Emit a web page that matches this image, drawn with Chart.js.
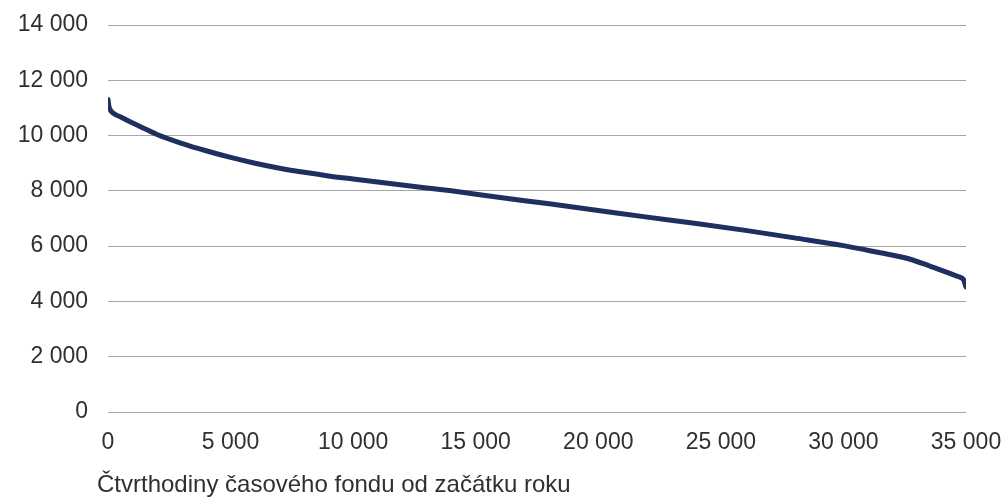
<!DOCTYPE html>
<html>
<head>
<meta charset="utf-8">
<script src="https://cdn.jsdelivr.net/npm/chart.js@4/dist/chart.umd.min.js"></script>
<style>
  html, body { margin: 0; padding: 0; background: #fff; }
  #wrap { width: 1007px; height: 497px; }
</style>
</head>
<body>
<div id="wrap"><canvas id="loadChart"></canvas></div>
<script>
// Data
const quarterHours = [0, 30, 80, 200, 500, 900, 1300, 2000, 3000, 4000, 5000, 6000, 7000, 8000, 9000, 10000, 12000, 14000, 16000, 18000, 20000, 22000, 24000, 26000, 28000, 30000, 31500, 32500, 33500, 34200, 34700, 34900, 35000];
const loadValues = [11300, 11100, 10950, 10820, 10680, 10500, 10330, 10040, 9720, 9450, 9210, 9000, 8820, 8670, 8540, 8430, 8210, 8000, 7760, 7530, 7290, 7050, 6820, 6570, 6300, 6020, 5760, 5580, 5290, 5060, 4890, 4790, 4520];
const xTicks = [0, 5000, 10000, 15000, 20000, 25000, 30000, 35000];
const yTicks = [0, 2000, 4000, 6000, 8000, 10000, 12000, 14000];
const xTitle = 'Čtvrthodiny časového fondu od začátku roku';

const FONT = 'Liberation Sans, Arial, sans-serif';
const FONT_SIZE = 23;
const TEXT = '#303030';

function fmt(v) {
    return String(v).replace(/\B(?=(\d{3})+(?!\d))/g, ' ');
}

// bottom title drawn slightly left of the plot area like the original
const xTitlePlugin = {
    id: 'xTitle',
    afterDraw(chart) {
        const c = chart.ctx;
        c.save();
        c.font = '24px ' + FONT;
        c.fillStyle = TEXT;
        c.textAlign = 'left';
        c.textBaseline = 'middle';
        c.fillText(xTitle, 97, 485);
        c.restore();
    }
};

const points = quarterHours.map((q, i) => ({ x: q, y: loadValues[i] }));

new Chart(document.getElementById('loadChart'), {
    type: 'line',
    data: {
        datasets: [{
            data: points,
            borderColor: '#1f2f5f',
            borderWidth: 5,
            borderCapStyle: 'round',
            borderJoinStyle: 'round',
            pointRadius: 0,
            cubicInterpolationMode: 'monotone',
            fill: false
        }]
    },
    options: {
        responsive: true,
        maintainAspectRatio: false,
        animation: false,
        devicePixelRatio: 1,
        layout: { padding: { top: 25, right: 41, bottom: 0, left: 0 } },
        plugins: {
            legend: { display: false },
            tooltip: { enabled: false }
        },
        scales: {
            x: {
                type: 'linear',
                min: 0,
                max: 35000,
                afterBuildTicks: s => { s.ticks = xTicks.map(v => ({ value: v })); },
                afterFit: s => {
                    s.height = 85;
                    // label overhang is covered by the layout padding
                    s.paddingLeft = 0;
                    s.paddingRight = 0;
                },
                grid: { display: false, drawTicks: false },
                border: { display: false },
                ticks: {
                    color: TEXT,
                    font: { family: FONT, size: FONT_SIZE },
                    padding: 17,
                    maxRotation: 0,
                    callback: v => fmt(v)
                }
            },
            y: {
                min: 0,
                max: 14000,
                afterBuildTicks: s => { s.ticks = yTicks.map(v => ({ value: v })); },
                afterFit: s => {
                    s.width = 108;
                    s.paddingTop = 0;
                    s.paddingBottom = 0;
                },
                grid: { color: '#a6a6a6', lineWidth: 1, drawTicks: false },
                border: { display: false },
                ticks: {
                    color: TEXT,
                    font: { family: FONT, size: FONT_SIZE },
                    padding: 20,
                    callback: v => fmt(v)
                }
            }
        }
    },
    plugins: [xTitlePlugin]
});
</script>
</body>
</html>
